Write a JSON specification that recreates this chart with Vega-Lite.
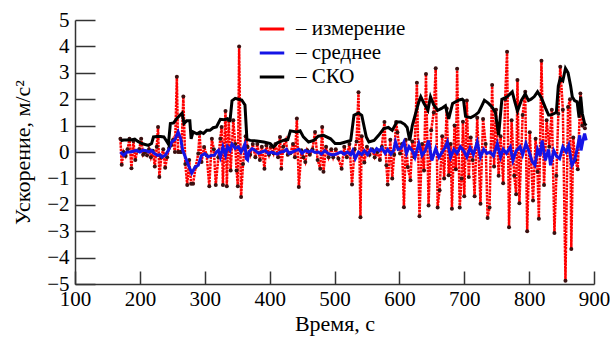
{
  "$schema": "https://vega.github.io/schema/vega-lite/v6.json",
  "width": 519,
  "height": 264,
  "autosize": {"type": "none"},
  "padding": {"left": 75, "top": 20, "right": 16, "bottom": 56},
  "background": "white",
  "config": {
    "font": "Times New Roman",
    "view": {"stroke": null},
    "style": {
      "guide-label": {"font": "Times New Roman"},
      "guide-title": {"font": "Times New Roman"}
    },
    "axis": {"labelFont": "Times New Roman", "titleFont": "Times New Roman"},
    "legend": {"labelFont": "Times New Roman"}
  },
  "datasets": {
    "meas": [
      {"t":170,"v":0.5},{"t":172,"v":-0.48},{"t":175,"v":0.0},{"t":178,"v":-0.15},{"t":181,"v":0.1},{"t":184,"v":0.5},{"t":187,"v":-0.62},{"t":190,"v":0.42},{"t":193,"v":-0.3},{"t":196,"v":0.05},{"t":199,"v":0.1},{"t":202,"v":0.5},{"t":205,"v":-0.1},{"t":208,"v":0.0},{"t":211,"v":-0.12},{"t":214,"v":0.1},{"t":217,"v":-0.2},{"t":220,"v":0.05},{"t":223,"v":-0.55},{"t":226,"v":0.2},{"t":228,"v":0.95},{"t":230,"v":-0.95},{"t":233,"v":-0.2},{"t":236,"v":0.1},{"t":239,"v":-0.6},{"t":242,"v":-0.2},{"t":245,"v":0.15},{"t":248,"v":0.25},{"t":251,"v":0.45},{"t":254,"v":0.0},{"t":257,"v":2.85},{"t":259,"v":0.0},{"t":262,"v":0.0},{"t":264,"v":0.0},{"t":267,"v":2.1},{"t":270,"v":-0.45},{"t":273,"v":-1.25},{"t":276,"v":-0.3},{"t":279,"v":-1.2},{"t":282,"v":-1.2},{"t":286,"v":-0.57},{"t":290,"v":-0.06},{"t":292,"v":0.7},{"t":295,"v":-0.38},{"t":299,"v":0.19},{"t":303,"v":-0.12},{"t":307,"v":-1.3},{"t":311,"v":0.5},{"t":314,"v":0.1},{"t":317,"v":-1.25},{"t":321,"v":-0.2},{"t":324,"v":0.5},{"t":326,"v":0.95},{"t":328,"v":-1.25},{"t":332,"v":1.55},{"t":334,"v":-1.3},{"t":337,"v":1.2},{"t":340,"v":-0.7},{"t":344,"v":1.2},{"t":347,"v":0.3},{"t":349,"v":-0.7},{"t":351,"v":-1.3},{"t":353,"v":4.0},{"t":356,"v":-1.7},{"t":359,"v":-0.45},{"t":363,"v":0.6},{"t":366,"v":0.2},{"t":370,"v":-0.1},{"t":374,"v":0.3},{"t":378,"v":-0.2},{"t":381,"v":0.3},{"t":385,"v":-0.3},{"t":388,"v":0.2},{"t":392,"v":-0.63},{"t":395,"v":0.25},{"t":399,"v":-0.1},{"t":402,"v":0.2},{"t":406,"v":-0.05},{"t":409,"v":0.3},{"t":413,"v":-0.2},{"t":416,"v":0.57},{"t":418,"v":-0.63},{"t":421,"v":0.2},{"t":425,"v":0.45},{"t":428,"v":-0.1},{"t":432,"v":-0.05},{"t":436,"v":0.3},{"t":439,"v":-0.2},{"t":442,"v":1.27},{"t":445,"v":-1.33},{"t":449,"v":0.07},{"t":452,"v":-0.2},{"t":455,"v":-0.38},{"t":458,"v":0.07},{"t":462,"v":-0.1},{"t":466,"v":0.1},{"t":470,"v":0.76},{"t":474,"v":-0.3},{"t":478,"v":-0.63},{"t":481,"v":0.95},{"t":483,"v":-0.75},{"t":487,"v":0.2},{"t":491,"v":-0.2},{"t":495,"v":0.1},{"t":498,"v":-0.2},{"t":502,"v":0.1},{"t":506,"v":-0.25},{"t":511,"v":-0.63},{"t":515,"v":0.2},{"t":519,"v":-0.2},{"t":523,"v":0.3},{"t":527,"v":-1.23},{"t":531,"v":0.1},{"t":534,"v":0.4},{"t":537,"v":2.26},{"t":540,"v":-2.47},{"t":542,"v":0.6},{"t":546,"v":-0.4},{"t":550,"v":0.2},{"t":554,"v":-0.1},{"t":558,"v":0.1},{"t":562,"v":-0.2},{"t":566,"v":0.0},{"t":570,"v":-0.3},{"t":573,"v":0.2},{"t":577,"v":1.14},{"t":580,"v":-0.5},{"t":582,"v":-1.23},{"t":586,"v":0.46},{"t":589,"v":-1.0},{"t":592,"v":-0.1},{"t":595,"v":1.14},{"t":597,"v":0.75},{"t":601,"v":-0.06},{"t":604,"v":0.3},{"t":607,"v":-2.09},{"t":610,"v":0.46},{"t":613,"v":-0.57},{"t":617,"v":-1.07},{"t":620,"v":0.4},{"t":623,"v":-0.2},{"t":627,"v":2.62},{"t":631,"v":-2.43},{"t":635,"v":0.3},{"t":638,"v":-0.7},{"t":641,"v":2.95},{"t":645,"v":-2.03},{"t":649,"v":0.82},{"t":653,"v":1.5},{"t":656,"v":3.17},{"t":659,"v":-2.1},{"t":662,"v":-1.45},{"t":666,"v":0.6},{"t":669,"v":-1.0},{"t":673,"v":1.65},{"t":676,"v":-0.88},{"t":679,"v":0.3},{"t":681,"v":-2.15},{"t":685,"v":1.0},{"t":687,"v":-0.65},{"t":689,"v":3.15},{"t":693,"v":-2.1},{"t":696,"v":-1.0},{"t":698,"v":1.15},{"t":700,"v":-1.68},{"t":704,"v":1.95},{"t":707,"v":-0.95},{"t":710,"v":0.55},{"t":713,"v":-0.3},{"t":716,"v":-1.68},{"t":720,"v":1.3},{"t":725,"v":-1.96},{"t":729,"v":1.25},{"t":733,"v":0.3},{"t":736,"v":-2.5},{"t":739,"v":-2.1},{"t":743,"v":2.54},{"t":746,"v":-0.55},{"t":749,"v":1.6},{"t":753,"v":-0.9},{"t":756,"v":0.6},{"t":760,"v":-1.18},{"t":763,"v":2.0},{"t":766,"v":3.8},{"t":769,"v":-2.85},{"t":773,"v":1.2},{"t":777,"v":-0.9},{"t":780,"v":-1.6},{"t":782,"v":2.73},{"t":785,"v":-1.94},{"t":790,"v":1.4},{"t":794,"v":2.28},{"t":797,"v":-3.0},{"t":801,"v":0.75},{"t":806,"v":-1.84},{"t":810,"v":0.5},{"t":813,"v":-0.75},{"t":815,"v":-2.53},{"t":819,"v":3.46},{"t":823,"v":-1.25},{"t":827,"v":1.2},{"t":831,"v":0.2},{"t":835,"v":1.6},{"t":839,"v":-3.07},{"t":842,"v":-0.9},{"t":845,"v":1.45},{"t":848,"v":3.23},{"t":852,"v":1.6},{"t":856,"v":-4.88},{"t":860,"v":1.7},{"t":863,"v":2.0},{"t":865,"v":-3.67},{"t":868,"v":0.55},{"t":871,"v":-0.3},{"t":875,"v":-0.65},{"t":879,"v":2.22},{"t":882,"v":1.0},{"t":886,"v":0.9}
    ],
    "mean": [
      {"t":170,"v":0.0},{"t":175,"v":-0.13},{"t":180,"v":0.0},{"t":185,"v":0.0},{"t":190,"v":0.03},{"t":195,"v":0.06},{"t":200,"v":0.0},{"t":205,"v":0.07},{"t":210,"v":0.05},{"t":214,"v":0.0},{"t":218,"v":0.06},{"t":222,"v":-0.05},{"t":227,"v":-0.13},{"t":231,"v":-0.1},{"t":234,"v":-0.19},{"t":239,"v":-0.13},{"t":244,"v":0.06},{"t":249,"v":0.38},{"t":254,"v":0.47},{"t":259,"v":0.76},{"t":263,"v":0.5},{"t":266,"v":0.06},{"t":271,"v":-0.25},{"t":276,"v":-0.57},{"t":280,"v":-0.8},{"t":285,"v":-0.57},{"t":290,"v":-0.5},{"t":295,"v":-0.13},{"t":300,"v":-0.06},{"t":305,"v":-0.19},{"t":310,"v":-0.13},{"t":315,"v":-0.12},{"t":318,"v":0.0},{"t":321,"v":0.06},{"t":324,"v":-0.19},{"t":328,"v":0.19},{"t":332,"v":-0.13},{"t":335,"v":0.2},{"t":339,"v":0.06},{"t":342,"v":0.3},{"t":344,"v":0.25},{"t":347,"v":0.13},{"t":352,"v":0.2},{"t":356,"v":0.0},{"t":360,"v":0.19},{"t":362,"v":0.3},{"t":364,"v":-0.25},{"t":366,"v":-0.3},{"t":368,"v":0.0},{"t":373,"v":0.13},{"t":378,"v":0.05},{"t":383,"v":-0.05},{"t":388,"v":0.0},{"t":393,"v":0.05},{"t":398,"v":-0.05},{"t":403,"v":0.0},{"t":408,"v":-0.05},{"t":412,"v":-0.08},{"t":417,"v":0.0},{"t":422,"v":0.02},{"t":426,"v":0.1},{"t":430,"v":-0.05},{"t":435,"v":0.0},{"t":440,"v":0.05},{"t":445,"v":0.1},{"t":450,"v":-0.05},{"t":455,"v":0.06},{"t":460,"v":0.0},{"t":465,"v":0.05},{"t":470,"v":-0.02},{"t":475,"v":0.0},{"t":480,"v":-0.08},{"t":485,"v":0.05},{"t":490,"v":-0.05},{"t":495,"v":-0.1},{"t":500,"v":-0.1},{"t":505,"v":-0.05},{"t":510,"v":0.0},{"t":515,"v":-0.08},{"t":520,"v":0.0},{"t":525,"v":-0.1},{"t":528,"v":0.05},{"t":532,"v":-0.25},{"t":537,"v":0.0},{"t":542,"v":-0.1},{"t":546,"v":0.05},{"t":551,"v":-0.1},{"t":556,"v":0.1},{"t":561,"v":0.0},{"t":565,"v":0.13},{"t":569,"v":0.05},{"t":573,"v":0.15},{"t":578,"v":-0.05},{"t":582,"v":0.1},{"t":587,"v":-0.08},{"t":591,"v":0.05},{"t":594,"v":0.38},{"t":598,"v":0.1},{"t":602,"v":0.13},{"t":607,"v":0.38},{"t":611,"v":-0.05},{"t":615,"v":0.2},{"t":620,"v":0.05},{"t":624,"v":-0.2},{"t":630,"v":0.32},{"t":635,"v":-0.13},{"t":640,"v":0.05},{"t":645,"v":0.44},{"t":650,"v":-0.32},{"t":656,"v":0.13},{"t":661,"v":-0.2},{"t":666,"v":0.0},{"t":670,"v":0.15},{"t":674,"v":0.38},{"t":679,"v":-0.2},{"t":684,"v":0.1},{"t":689,"v":-0.05},{"t":694,"v":0.2},{"t":699,"v":0.05},{"t":704,"v":-0.19},{"t":709,"v":0.15},{"t":714,"v":-0.1},{"t":720,"v":0.38},{"t":725,"v":-0.19},{"t":730,"v":0.1},{"t":735,"v":-0.05},{"t":740,"v":0.0},{"t":745,"v":-0.15},{"t":751,"v":0.32},{"t":756,"v":-0.19},{"t":760,"v":0.1},{"t":765,"v":-0.05},{"t":771,"v":0.19},{"t":775,"v":-0.32},{"t":780,"v":0.05},{"t":786,"v":0.2},{"t":790,"v":-0.1},{"t":795,"v":0.32},{"t":800,"v":0.0},{"t":805,"v":-0.38},{"t":809,"v":-0.5},{"t":813,"v":0.1},{"t":817,"v":-0.15},{"t":820,"v":0.44},{"t":825,"v":-0.32},{"t":830,"v":0.1},{"t":833,"v":-0.5},{"t":838,"v":0.05},{"t":842,"v":-0.15},{"t":847,"v":-0.25},{"t":852,"v":0.2},{"t":857,"v":0.0},{"t":861,"v":0.25},{"t":866,"v":-0.5},{"t":870,"v":-0.32},{"t":874,"v":0.1},{"t":878,"v":0.63},{"t":880,"v":0.06},{"t":883,"v":0.44},{"t":885.5,"v":0.7},{"t":888,"v":0.44}
    ],
    "sko": [
      {"t":170,"v":0.42},{"t":175,"v":0.45},{"t":185,"v":0.45},{"t":192,"v":0.49},{"t":197,"v":0.4},{"t":203,"v":0.32},{"t":213,"v":0.25},{"t":218,"v":0.32},{"t":221,"v":0.57},{"t":229,"v":0.6},{"t":237,"v":0.57},{"t":242,"v":0.38},{"t":244,"v":0.3},{"t":247,"v":1.08},{"t":252,"v":1.1},{"t":257,"v":1.27},{"t":262,"v":1.4},{"t":265,"v":1.47},{"t":268,"v":1.08},{"t":272,"v":1.18},{"t":277,"v":1.18},{"t":279,"v":0.5},{"t":282,"v":0.76},{"t":288,"v":0.69},{"t":293,"v":0.76},{"t":298,"v":0.7},{"t":303,"v":0.82},{"t":308,"v":0.82},{"t":313,"v":0.92},{"t":318,"v":0.95},{"t":324,"v":1.24},{"t":330,"v":1.22},{"t":335,"v":1.26},{"t":339,"v":1.2},{"t":342,"v":1.94},{"t":347,"v":2.03},{"t":352,"v":2.0},{"t":357,"v":1.97},{"t":362,"v":1.78},{"t":365,"v":0.48},{"t":370,"v":0.44},{"t":380,"v":0.42},{"t":391,"v":0.38},{"t":401,"v":0.32},{"t":406,"v":0.19},{"t":412,"v":0.35},{"t":421,"v":0.44},{"t":428,"v":0.47},{"t":432,"v":0.8},{"t":442,"v":0.76},{"t":447,"v":0.8},{"t":452,"v":0.57},{"t":460,"v":0.38},{"t":468,"v":0.44},{"t":475,"v":0.6},{"t":483,"v":0.63},{"t":494,"v":0.5},{"t":501,"v":0.32},{"t":509,"v":0.32},{"t":517,"v":0.38},{"t":525,"v":0.44},{"t":530,"v":1.39},{"t":537,"v":1.48},{"t":542,"v":1.39},{"t":549,"v":0.57},{"t":553,"v":0.38},{"t":561,"v":0.44},{"t":568,"v":0.63},{"t":576,"v":0.89},{"t":583,"v":0.93},{"t":589,"v":0.82},{"t":596,"v":1.14},{"t":602,"v":1.14},{"t":608,"v":1.05},{"t":612,"v":0.93},{"t":616,"v":0.44},{"t":620,"v":1.01},{"t":625,"v":1.46},{"t":630,"v":1.9},{"t":633,"v":2.09},{"t":638,"v":1.84},{"t":644,"v":1.58},{"t":648,"v":2.09},{"t":653,"v":1.78},{"t":659,"v":1.58},{"t":665,"v":1.65},{"t":671,"v":1.75},{"t":676,"v":1.25},{"t":682,"v":1.84},{"t":692,"v":1.97},{"t":697,"v":2.0},{"t":699,"v":1.95},{"t":702,"v":1.35},{"t":710,"v":1.3},{"t":716,"v":1.38},{"t":722,"v":1.5},{"t":727,"v":1.75},{"t":731,"v":1.96},{"t":737,"v":1.85},{"t":743,"v":1.7},{"t":748,"v":1.5},{"t":753,"v":0.63},{"t":758,"v":2.0},{"t":766,"v":2.09},{"t":774,"v":2.28},{"t":778,"v":1.9},{"t":782,"v":1.55},{"t":788,"v":1.95},{"t":794,"v":2.2},{"t":799,"v":1.95},{"t":803,"v":2.0},{"t":808,"v":2.1},{"t":813,"v":2.28},{"t":819,"v":2.05},{"t":825,"v":1.68},{"t":830,"v":1.4},{"t":833,"v":1.4},{"t":838,"v":1.45},{"t":842,"v":1.5},{"t":845,"v":2.5},{"t":848,"v":2.79},{"t":852,"v":2.7},{"t":856,"v":3.17},{"t":860,"v":3.0},{"t":864,"v":2.5},{"t":866.5,"v":2.09},{"t":870,"v":1.95},{"t":874,"v":1.9},{"t":877,"v":1.3},{"t":879.5,"v":2.1},{"t":882,"v":1.45},{"t":885.5,"v":1.08},{"t":888,"v":1.0}
    ]
  },
  "encoding": {
    "x": {
      "field": "t",
      "type": "quantitative",
      "scale": {"domain": [100, 900], "nice": false, "zero": false},
      "axis": {
        "title": "Время, с",
        "values": [100, 200, 300, 400, 500, 600, 700, 800, 900],
        "labelFont": "Times New Roman",
        "titleFont": "Times New Roman",
        "labelFontSize": 21,
        "titleFontSize": 22,
        "titleFontWeight": "normal",
        "labelColor": "#000",
        "titleColor": "#000",
        "grid": false,
        "domainColor": "#333",
        "tickColor": "#333",
        "domainWidth": 1.5,
        "tickWidth": 1.5,
        "tickSize": -13,
        "labelPadding": 17,
        "labelFlush": false,
        "labelOverlap": false,
        "titlePadding": 4
      }
    },
    "y": {
      "field": "v",
      "type": "quantitative",
      "scale": {"domain": [-5, 5], "nice": false, "zero": false},
      "axis": {
        "title": "Ускорение, м/с²",
        "values": [-5, -4, -3, -2, -1, 0, 1, 2, 3, 4, 5],
        "labelFont": "Times New Roman",
        "titleFont": "Times New Roman",
        "labelFontSize": 21,
        "titleFontSize": 22,
        "titleFontWeight": "normal",
        "labelColor": "#000",
        "titleColor": "#000",
        "grid": false,
        "domainColor": "#333",
        "tickColor": "#333",
        "domainWidth": 1.5,
        "tickWidth": 1.5,
        "tickSize": -20,
        "labelPadding": 26,
        "labelOverlap": false,
        "labelFlush": false,
        "titlePadding": 12
      }
    }
  },
  "layer": [
    {
      "data": {"name": "meas"},
      "mark": {"type": "line", "strokeWidth": 2.5, "strokeDash": [2.5, 0.8]},
      "encoding": {
        "color": {
          "datum": "измерение",
          "type": "nominal",
          "scale": {"domain": ["измерение", "среднее", "СКО"], "range": ["#ff0000", "#1414e6", "#000000"]},
          "legend": {
            "orient": "none",
            "legendX": 183,
            "legendY": -5,
            "title": null,
            "symbolType": "stroke",
            "symbolSize": 600,
            "symbolStrokeWidth": 3,
            "symbolDash": [],
            "labelFont": "Times New Roman",
            "labelFontSize": 21,
            "labelColor": "#000",
            "labelOffset": 10,
            "labelLimit": 300,
            "labelExpr": "'– ' + datum.label",
            "rowPadding": 0,
            "padding": 0
          }
        }
      }
    },
    {
      "data": {"name": "meas"},
      "mark": {"type": "circle", "size": 16, "color": "#3a1010", "opacity": 1}
    },
    {
      "data": {"name": "mean"},
      "mark": {"type": "line", "strokeWidth": 3},
      "encoding": {"color": {"datum": "среднее", "type": "nominal"}}
    },
    {
      "data": {"name": "sko"},
      "mark": {"type": "line", "strokeWidth": 3},
      "encoding": {"color": {"datum": "СКО", "type": "nominal"}}
    }
  ]
}
